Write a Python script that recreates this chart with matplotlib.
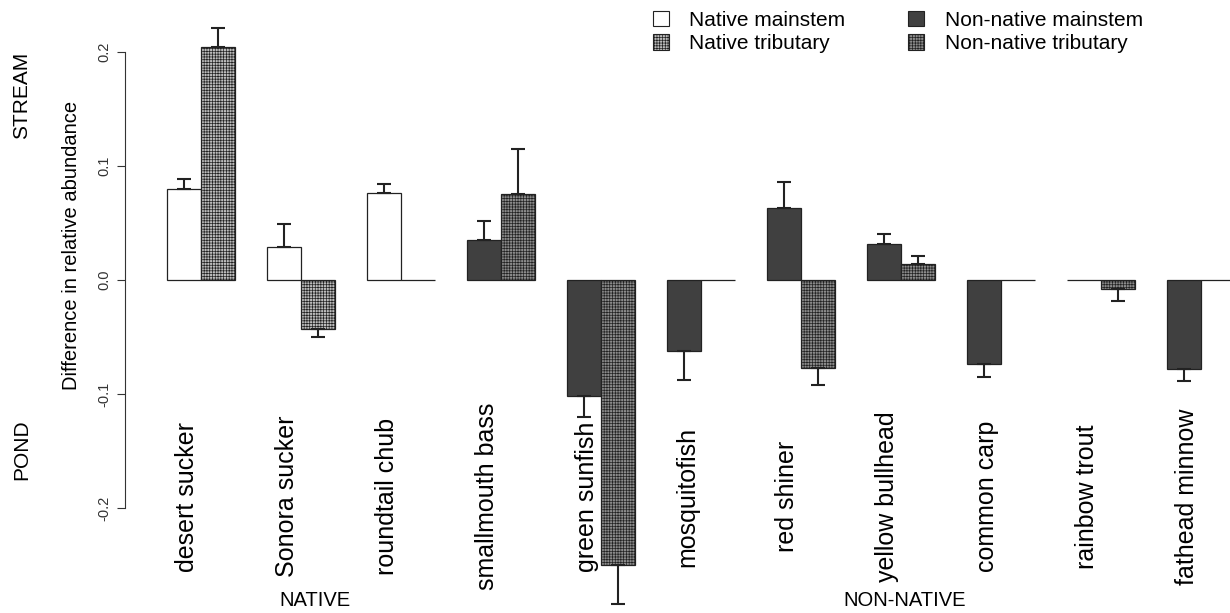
import matplotlib
matplotlib.use("Agg")
import matplotlib.pyplot as plt
import numpy as np

plt.rcParams['font.family'] = ['Liberation Sans', 'DejaVu Sans']
plt.rcParams['hatch.linewidth'] = 0.5

# data
species = ['desert sucker', 'Sonora sucker', 'roundtail chub', 'smallmouth bass',
           'green sunfish', 'mosquitofish', 'red shiner', 'yellow bullhead',
           'common carp', 'rainbow trout', 'fathead minnow']
is_native = [True, True, True, False, False, False, False, False, False, False, False]
mainstem = [0.080, 0.029, 0.076, 0.035, -0.102, -0.062, 0.063, 0.032, -0.074, 0.0, -0.078]
mainstem_se = [0.009, 0.020, 0.008, 0.017, 0.018, 0.026, 0.023, 0.008, 0.011, 0.0, 0.011]
tributary = [0.204, -0.043, 0.0, 0.075, -0.250, 0.0, -0.077, 0.014, 0.0, -0.008, 0.0]
tributary_se = [0.017, 0.007, 0.0, 0.040, 0.034, 0.0, 0.015, 0.007, 0.0, 0.010, 0.0]
legend_labels = ['Native mainstem', 'Native tributary', 'Non-native mainstem', 'Non-native tributary']

W, H = 1230, 613
fig = plt.figure(figsize=(W / 100, H / 100), dpi=100)
# axes line at x=125px, zero at y=280px, 1140 px per unit
ax = fig.add_axes([125 / W, 0, 1 - 125 / W, 1])
ax.set_xlim(-0.42, (W - 167) / 100)
ax.set_ylim(-(H - 280) / 1140, 280 / 1140)

x = np.arange(len(species))
bw = 0.34

main_fc = ['white' if n else '#404040' for n in is_native]
trib_fc = ['#bdbdbd' if n else '#8c8c8c' for n in is_native]

ax.bar(x, mainstem, width=bw, align='edge', color=main_fc, edgecolor='#222222', linewidth=0.9)
ax.bar(x + bw, tributary, width=bw, align='edge', color=trib_fc, edgecolor='#222222',
       linewidth=0.9, hatch='++++++')

def one_sided(vals, se):
    lo = [s if v < 0 else 0 for v, s in zip(vals, se)]
    hi = [s if v > 0 else 0 for v, s in zip(vals, se)]
    return [lo, hi]

for xs, vals, se in [(x + bw / 2, mainstem, mainstem_se), (x + 1.5 * bw, tributary, tributary_se)]:
    keep = [i for i in range(len(vals)) if se[i] > 0]
    err = one_sided(vals, se)
    ax.errorbar(xs[keep], np.array(vals)[keep],
                yerr=[np.array(err[0])[keep], np.array(err[1])[keep]],
                fmt='none', ecolor='#222222', elinewidth=1.5, capsize=4.7, capthick=1.5)

for i, name in enumerate(species):
    ax.text(i + 0.2, -0.19, name, rotation=90, ha='center', va='center', fontsize=18)

ax.text(1.48, -0.281, 'NATIVE', ha='center', va='center', fontsize=14.5)
ax.text(7.38, -0.281, 'NON-NATIVE', ha='center', va='center', fontsize=14.5)

for s in ['top', 'right', 'bottom']:
    ax.spines[s].set_visible(False)
ax.spines['left'].set_bounds(-0.2, 0.2)
ax.spines['left'].set_color('#333333')
ax.set_yticks([-0.2, -0.1, 0.0, 0.1, 0.2])
ax.set_yticklabels(['-0.2', '-0.1', '0.0', '0.1', '0.2'], rotation=90, va='center', fontsize=10.5, color='#333333')
ax.tick_params(axis='y', length=6, color='#333333', pad=4)
ax.set_xticks([])

fig.text(72 / W, 1 - 245 / H, 'Difference in relative abundance', rotation=90,
         ha='center', va='center', fontsize=14.5)
fig.text(22 / W, 1 - 95 / H, 'STREAM', rotation=90, ha='center', va='center', fontsize=15)
fig.text(22 / W, 1 - 450 / H, 'POND', rotation=90, ha='center', va='center', fontsize=15)

handles = [
    plt.Rectangle((0, 0), 1, 1, facecolor='white', edgecolor='#222222', linewidth=0.8),
    plt.Rectangle((0, 0), 1, 1, facecolor='#bdbdbd', edgecolor='#222222', linewidth=0.8, hatch='++++++'),
    plt.Rectangle((0, 0), 1, 1, facecolor='#404040', edgecolor='#222222', linewidth=0.8),
    plt.Rectangle((0, 0), 1, 1, facecolor='#8c8c8c', edgecolor='#222222', linewidth=0.8, hatch='++++++'),
]
fig.legend(handles, legend_labels, ncol=2, loc='upper left', bbox_to_anchor=(653 / W, 1 - 11 / H),
           frameon=False, fontsize=15, handlelength=0.75, handleheight=0.75,
           handletextpad=1.0, labelspacing=0.2, columnspacing=3.0, borderpad=0, borderaxespad=0)

fig.savefig('out.png', dpi=100)
